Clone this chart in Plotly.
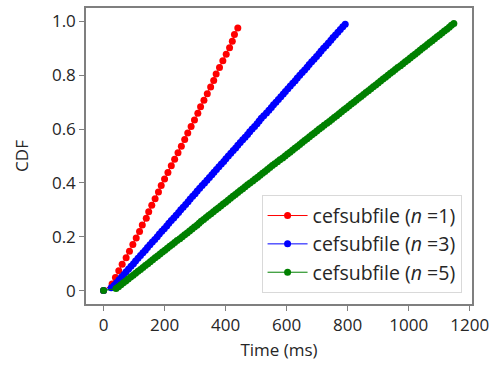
import plotly.graph_objects as go

# Latency samples (ms); CDF = rank / N
red_ms = [0, 28, 39, 50, 61, 74, 85, 96, 107, 118, 127, 140, 148, 158, 169, 180, 189, 200,
          211, 222, 233, 244, 255, 266, 276, 287, 298, 309, 318, 329, 340, 351, 361, 369,
          380, 391, 402, 413, 422, 429, 440]

blue_ms = [0, 25, 35, 43, 51, 59, 67, 74, 82, 90,
           98, 105, 113, 121, 129, 137, 144, 152, 160, 168,
           176, 183, 191, 199, 207, 214, 222, 230, 238, 246,
           253, 261, 269, 277, 284, 292, 300, 307, 315, 323,
           331, 339, 347, 355, 362, 370, 378, 386, 394, 401,
           409, 417, 425, 433, 440, 448, 456, 464, 472, 479,
           487, 495, 503, 510, 517, 525, 534, 542, 550, 557,
           565, 573, 581, 589, 596, 604, 612, 620, 628, 635,
           643, 651, 659, 667, 674, 682, 690, 698, 706, 713,
           721, 729, 737, 745, 752, 760, 768, 776, 784, 792]

green_ms = [0, 41, 49, 57, 65, 73, 81, 89, 97, 105, 113,
            121, 129, 137, 145, 153, 161, 169, 177, 185, 193,
            201, 209, 217, 225, 233, 241, 250, 258, 266, 274,
            282, 290, 298, 306, 313, 320, 328, 336, 344, 352,
            360, 368, 376, 384, 392, 400, 408, 416, 424, 432,
            440, 448, 456, 464, 472, 480, 489, 497, 505, 513,
            521, 529, 537, 545, 553, 561, 570, 578, 587, 595,
            603, 611, 619, 627, 635, 643, 651, 659, 667, 675,
            683, 691, 699, 707, 715, 723, 732, 740, 748, 756,
            764, 772, 780, 788, 796, 804, 812, 820, 828, 836,
            844, 852, 860, 868, 876, 884, 892, 900, 908, 916,
            924, 932, 940, 948, 956, 964, 973, 981, 989, 997,
            1005, 1013, 1021, 1029, 1037, 1045, 1053, 1061, 1069, 1077,
            1085, 1093, 1101, 1109, 1117, 1125, 1133, 1140, 1148]

series_names = ["cefsubfile (<i>n</i> =1)", "cefsubfile (<i>n</i> =3)", "cefsubfile (<i>n</i> =5)"]
series_colors = ["#ff0000", "#0000ff", "#008000"]

x_ticks = [0, 200, 400, 600, 800, 1000, 1200]
y_ticks = [0, 0.2, 0.4, 0.6, 0.8, 1.0]
y_ticktext = ["0", "0.2", "0.4", "0.6", "0.8", "1.0"]

FONT = "Open Sans, sans-serif"
TXT = "#262626"

fig = go.Figure()
for samples, name, color in zip([red_ms, blue_ms, green_ms], series_names, series_colors):
    xs = sorted(samples)
    n = len(xs)
    ys = [i / n for i in range(n)]
    fig.add_trace(go.Scatter(
        x=xs, y=ys, mode="lines+markers", name=name,
        line=dict(color=color, width=1),
        marker=dict(color=color, size=7),
    ))

axis_common = dict(
    showline=True, linecolor="#7f7f7f", linewidth=1.5, mirror=True,
    ticks="outside", ticklen=5, tickwidth=1.2, tickcolor="#7f7f7f",
    showgrid=False, zeroline=False, automargin=False,
    tickfont=dict(family=FONT, size=17, color=TXT),
)

fig.update_layout(
    width=500, height=369,
    margin=dict(l=86, r=28, t=8, b=65),
    paper_bgcolor="white", plot_bgcolor="white",
    font=dict(family=FONT, size=17, color=TXT),
    xaxis=dict(range=[-57.5, 1207.5], tickvals=x_ticks,
               title=dict(text="Time (ms)", font=dict(family=FONT, size=17, color=TXT), standoff=9),
               **axis_common),
    yaxis=dict(range=[-0.05, 1.05], tickvals=y_ticks, ticktext=y_ticktext,
               title=dict(text="CDF", font=dict(family=FONT, size=17, color=TXT), standoff=19),
               **axis_common),
    legend=dict(x=0.973, y=0.036, xanchor="right", yanchor="bottom",
                bgcolor="rgba(255,255,255,0.8)", bordercolor="#d9d9d9", borderwidth=1,
                font=dict(family=FONT, size=19.5, color=TXT),
                itemwidth=40, tracegroupgap=0),
    showlegend=True,
)

fig.write_html("out.html", config={"displayModeBar": False},
               post_script="document.body.style.margin='0';")
